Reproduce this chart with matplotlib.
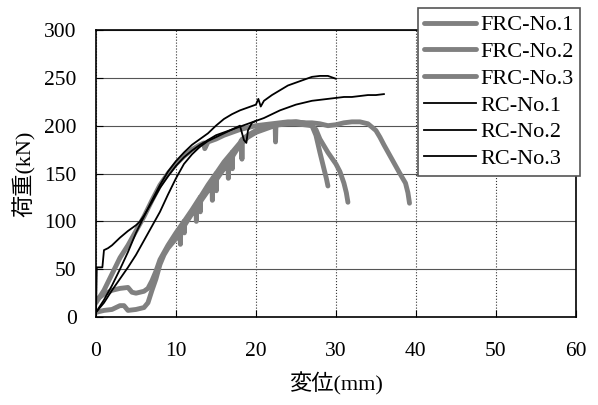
import matplotlib
matplotlib.use("Agg")
import matplotlib.pyplot as plt

plt.rcParams['font.family'] = ['Liberation Serif', 'Noto Sans CJK JP']

# FRC-No.1 (follows the RC curves, ends near 29 mm)
frc1_x = [0, 1, 2, 3, 4, 5, 6, 7, 8, 9, 10, 11, 12, 13, 13.5, 13.6, 14, 15, 16, 17, 18,
          19, 20, 21, 22, 23, 24, 25, 26, 27, 27.5, 28, 28.5, 28.8, 29]
frc1_y = [15, 28, 45, 62, 75, 90, 105, 122, 138, 150, 160, 168, 175, 180, 182, 176, 183, 186,
          190, 193, 196, 198, 200, 201, 202, 203, 204, 204, 203, 200, 190, 172, 155, 145, 137]

# FRC-No.2 (slip start ~25 kN, ends near 31.5 mm)
frc2_x = [0, 1, 2, 3, 4, 4.5, 5, 6, 6.5, 7, 7.5, 8, 9, 10, 11, 11.05, 11.1, 12, 13, 13.05,
          13.1, 14, 15, 15.05, 15.1, 16, 17, 17.05, 17.1, 18, 18.2, 18.25, 18.3, 19, 20, 21,
          22, 23, 24, 25, 26, 27, 27.5, 28, 29, 30, 30.5, 31, 31.3, 31.5]
frc2_y = [18, 24, 28, 30, 31, 26, 25, 27, 30, 38, 48, 60, 75, 88, 100, 88, 101, 112, 125, 110,
          126, 138, 150, 132, 151, 162, 172, 155, 173, 182, 185, 165, 186, 190, 195, 198,
          200, 201, 202, 202, 201, 200, 196, 186, 172, 160, 152, 140, 130, 120]

# FRC-No.3 (slip start ~10 kN, ends near 39 mm)
frc3_x = [0, 1, 2, 3, 3.5, 4, 5, 6, 6.5, 7, 7.5, 8, 8.5, 9, 10, 10.5, 10.55, 10.6, 11, 12,
          12.5, 12.55, 12.6, 13, 14, 14.5, 14.55, 14.6, 15, 16, 16.5, 16.55, 16.6, 17, 18,
          19, 20, 21, 22, 22.4, 22.45, 22.5, 23, 24, 25, 26, 27, 28, 29, 30, 31, 32, 33, 34,
          35, 35.5, 36, 37, 38, 38.7, 39, 39.2]
frc3_y = [5, 7, 8, 12, 12, 7, 8, 10, 15, 28, 40, 55, 65, 72, 82, 88, 76, 89, 95, 108,
          115, 100, 116, 120, 132, 138, 122, 139, 143, 155, 161, 145, 162, 167, 180,
          188, 193, 196, 199, 200, 183, 200, 202, 203, 204, 203, 203, 202, 200, 201, 203,
          204, 204, 202, 195, 188, 180, 165, 150, 140, 130, 119]

# RC-No.1 (reaches ~250 kN)
rc1_x = [0, 1, 2, 3, 4, 5, 6, 7, 8, 9, 10, 11, 12, 13, 14, 15, 16, 17, 18, 19, 20, 20.3,
         20.6, 21, 22, 23, 24, 25, 26, 27, 28, 29, 30]
rc1_y = [5, 18, 33, 50, 68, 88, 105, 122, 138, 152, 163, 172, 180, 186, 192, 200, 207, 212,
         216, 219, 222, 228, 220, 226, 232, 237, 242, 245, 248, 251, 252, 252, 249]

# RC-No.2 (initial jump to ~52 kN, ends near 36 mm)
rc2_x = [0, 0.1, 0.8, 1, 1.5, 2, 3, 4, 5, 5.5, 6, 7, 8, 9, 10, 11, 12, 13, 14, 15, 16, 17,
         18, 19, 20, 21, 22, 23, 24, 25, 26, 27, 28, 29, 30, 31, 32, 33, 34, 35, 36]
rc2_y = [0, 52, 52, 70, 72, 75, 83, 90, 96, 100, 106, 120, 135, 147, 158, 167, 174, 180,
         185, 190, 193, 196, 199, 202, 205, 208, 212, 216, 219, 222, 224, 226, 227, 228,
         229, 230, 230, 231, 232, 232, 233]

# RC-No.3 (lower stiffness, ends near 20 mm)
rc3_x = [0, 1, 2, 3, 4, 5, 6, 7, 8, 9, 10, 11, 12, 13, 14, 15, 16, 17, 18, 18.5, 18.8, 19,
         19.5, 20]
rc3_y = [5, 15, 28, 40, 52, 65, 80, 95, 110, 128, 145, 160, 170, 178, 184, 188, 192, 196,
         200, 185, 182, 195, 203, 205]

x_ticks = [0, 10, 20, 30, 40, 50, 60]
y_ticks = [0, 50, 100, 150, 200, 250, 300]

fig = plt.figure(figsize=(5.98, 4.05), dpi=100)
ax = fig.add_axes([0.1605, 0.217, 0.8025, 0.709])

gray = '#808080'
ax.plot(frc1_x, frc1_y, color=gray, lw=3.5, solid_capstyle='round', label='FRC-No.1')
ax.plot(frc2_x, frc2_y, color=gray, lw=3.5, solid_capstyle='round', label='FRC-No.2')
ax.plot(frc3_x, frc3_y, color=gray, lw=3.5, solid_capstyle='round', label='FRC-No.3')
ax.plot(rc1_x, rc1_y, color='black', lw=1.3, label='RC-No.1')
ax.plot(rc2_x, rc2_y, color='black', lw=1.3, label='RC-No.2')
ax.plot(rc3_x, rc3_y, color='black', lw=1.3, label='RC-No.3')

ax.set_xlim(0, 60)
ax.set_ylim(0, 300)
ax.set_xticks(x_ticks)
ax.set_yticks(y_ticks)
ax.tick_params(direction='in', length=5, labelsize=15.5)
ax.tick_params(axis='x', pad=18)
ax.tick_params(axis='y', pad=14)
ax.yaxis.grid(True, color='#555555', lw=0.8)
ax.xaxis.grid(True, color='#333333', lw=0.8, ls=':')
ax.set_axisbelow(True)
for s in ax.spines.values():
    s.set_linewidth(1.2)

ax.set_xlabel('変位(mm)', fontsize=16, labelpad=8)
ax.set_ylabel('荷重(kN)', fontsize=16, labelpad=6)

leg = fig.legend(loc='upper right', bbox_to_anchor=(0.970, 0.980), fontsize=16,
                 handlelength=2.3, handletextpad=0.2, labelspacing=0.28,
                 borderpad=0.3, fancybox=False, framealpha=1, borderaxespad=0)
leg.get_frame().set_edgecolor('#555555')
leg.get_frame().set_linewidth(1.2)

fig.savefig('out.png', dpi=100)
